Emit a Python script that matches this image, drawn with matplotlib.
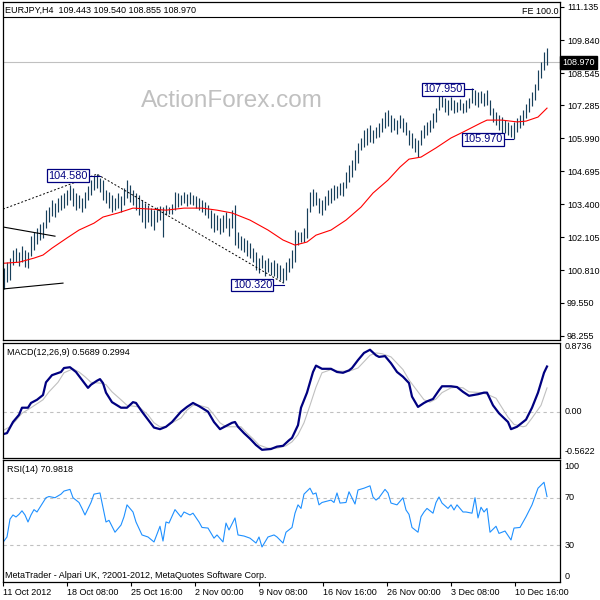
import matplotlib
matplotlib.use('Agg')
import matplotlib.pyplot as plt

plt.rcParams['font.family'] = ['Liberation Sans', 'DejaVu Sans']
plt.rcParams['font.size'] = 6.5

# EURJPY H4 bars (high / low), one entry per bar
highs = [100.90, 101.13, 101.29, 101.61, 101.68, 101.53, 101.76, 101.61, 101.53, 102.15,
         102.31, 102.47, 102.62, 102.70, 103.17, 103.29, 103.57, 103.45, 103.64, 103.76,
         103.84, 103.96, 104.15, 104.04, 103.84, 103.76, 103.64, 103.88, 104.12, 104.35,
         104.51, 104.58, 104.43, 104.35, 103.96, 103.88, 103.76, 103.64, 103.84, 103.72,
         104.04, 104.35, 104.15, 103.96, 103.84, 103.76, 103.57, 103.45, 103.37, 103.25,
         103.17, 103.29, 103.33, 103.29, 103.37, 103.29, 103.41, 103.88, 103.84, 103.76,
         103.88, 103.80, 103.88, 103.76, 103.72, 103.64, 103.57, 103.49, 103.37, 103.17,
         103.06, 102.98, 102.86, 102.98, 103.10, 102.86, 103.17, 103.37, 102.31, 102.15,
         102.08, 102.00, 101.88, 101.68, 101.53, 101.29, 101.41, 101.21, 101.29, 101.13,
         101.21, 101.09, 101.02, 100.90, 101.13, 101.29, 101.61, 102.39, 102.31, 102.31,
         102.47, 103.25, 103.88, 104.00, 103.88, 103.64, 103.57, 103.72, 103.96, 104.04,
         104.15, 104.12, 104.23, 104.27, 104.66, 104.94, 105.13, 105.53, 105.80, 106.00,
         106.31, 106.39, 106.51, 106.31, 106.43, 106.59, 106.78, 107.02, 107.10, 106.90,
         106.78, 106.70, 106.90, 106.78, 106.63, 106.31, 106.19, 106.00, 105.92, 106.31,
         106.51, 106.63, 106.70, 106.98, 107.17, 107.68, 107.76, 107.57, 107.49, 107.61,
         107.49, 107.41, 107.53, 107.37, 107.49, 107.57, 107.95, 107.88, 107.80, 107.84,
         107.76, 107.88, 107.49, 107.17, 107.02, 106.90, 106.82, 106.70, 106.63, 106.51,
         106.63, 106.78, 106.90, 107.10, 107.33, 107.57, 107.80, 108.12, 108.66, 108.98,
         109.37, 109.54]
lows = [100.07, 100.35, 100.43, 101.02, 101.13, 100.98, 101.13, 100.94, 100.90, 101.37,
        101.61, 101.84, 102.00, 102.08, 102.47, 102.70, 102.94, 102.90, 103.10, 103.17,
        103.25, 103.37, 103.57, 103.33, 103.17, 103.25, 103.10, 103.25, 103.57, 103.76,
        103.96, 104.04, 103.88, 103.57, 103.45, 103.25, 103.10, 103.17, 103.25, 103.10,
        103.37, 103.64, 103.49, 103.37, 103.17, 102.98, 102.70, 102.47, 102.70, 102.55,
        102.39, 102.70, 102.78, 102.11, 102.98, 103.02, 103.02, 103.17, 103.29, 103.37,
        103.45, 103.33, 103.41, 103.37, 103.25, 103.17, 103.10, 102.98, 102.86, 102.47,
        102.31, 102.39, 102.23, 102.31, 102.47, 102.15, 102.47, 101.80, 101.68, 101.61,
        101.53, 101.37, 101.29, 101.13, 100.82, 100.70, 100.90, 100.58, 100.74, 100.62,
        100.58, 100.51, 100.43, 100.32, 100.43, 100.74, 100.90, 101.13, 101.80, 101.92,
        101.92, 102.08, 103.10, 103.33, 103.37, 103.06, 102.98, 103.17, 103.37, 103.45,
        103.57, 103.64, 103.76, 103.72, 104.04, 104.27, 104.47, 104.74, 105.02, 105.53,
        105.65, 105.72, 105.84, 105.80, 106.00, 106.04, 106.23, 106.39, 106.47, 106.23,
        106.31, 106.15, 106.39, 106.23, 106.12, 105.72, 105.61, 105.45, 105.25, 105.72,
        106.00, 106.12, 106.23, 106.39, 106.63, 107.10, 107.21, 107.02, 106.90, 107.10,
        106.98, 107.02, 107.10, 106.98, 107.02, 107.17, 107.37, 107.29, 107.21, 107.37,
        107.25, 107.29, 106.90, 106.63, 106.51, 106.31, 106.12, 106.19, 106.12, 106.04,
        105.97, 106.23, 106.39, 106.51, 106.78, 107.02, 107.25, 107.49, 107.88, 108.35,
        108.66, 108.86]

last_ohlc = [109.443, 109.540, 108.855, 108.970]
fe_level = 110.74

# red moving average (bar index, price)
ma_idx = [0, 5, 10, 13, 16, 21, 25, 30, 33, 38, 43, 49, 54, 60, 66, 71, 76, 82, 88, 93,
          97, 101, 104, 109, 114, 119, 123, 128, 132, 135, 139, 144, 149, 153, 159, 161,
          166, 171, 174, 178, 181]
ma_val = [101.09, 101.13, 101.29, 101.41, 101.68, 102.08, 102.39, 102.66, 102.90, 103.06,
          103.25, 103.21, 103.17, 103.25, 103.25, 103.17, 103.06, 102.78, 102.39, 102.00,
          101.80, 101.92, 102.19, 102.39, 102.78, 103.29, 103.84, 104.35, 104.86, 105.17,
          105.25, 105.61, 106.00, 106.23, 106.59, 106.70, 106.70, 106.63, 106.66, 106.82,
          107.17]

# swing points: zigzag (dotted) and triangle (solid)
zigzag_idx = [-0.33, 31, 93]
zigzag_val = [103.21, 104.58, 100.32]
tri_up_idx = [-0.33, 17]
tri_up_val = [102.51, 102.15]
tri_lo_idx = [-0.33, 19.67]
tri_lo_val = [100.08, 100.31]

swing_vals = [104.580, 100.320, 107.950, 105.970]
swing_bar = [32, 93.3, 156.3, 169.7]
label_pos = [(21.3, 104.52), (82.8, 100.23), (146.2, 107.90), (159.7, 105.94)]
label_right = [28.7, 89.7, 153.0, 166.3]

# MACD(12,26,9)
macd_idx = [0, 1, 3, 5, 6, 8, 9, 11, 13, 14,
            16, 19, 20, 22, 24, 26, 28, 29, 31, 32,
            33, 34, 36, 39, 41, 43, 44, 46, 48, 50,
            52, 54, 56, 59, 61, 63, 65, 68, 70, 72,
            74, 76, 77, 78, 80, 82, 84, 86, 89, 91,
            93, 95, 96, 98, 99, 101, 103, 104, 106, 109,
            111, 113, 115, 116, 118, 120, 122, 124, 125, 127,
            129, 131, 133, 135, 136, 138, 140, 141, 143, 145,
            146, 149, 151, 153, 155, 158, 160, 161, 163, 165,
            168, 169, 171, 174, 176, 178, 180, 181]
macd_val = [-0.28, -0.27, -0.13, -0.04, 0.05, 0.05, 0.11, 0.15, 0.21, 0.37,
            0.46, 0.50, 0.55, 0.56, 0.50, 0.40, 0.30, 0.34, 0.39, 0.41,
            0.36, 0.24, 0.12, 0.05, 0.05, 0.12, 0.11, 0.00, -0.10, -0.20,
            -0.22, -0.19, -0.13, 0.00, 0.06, 0.11, 0.07, 0.00, -0.13, -0.22,
            -0.18, -0.14, -0.13, -0.19, -0.27, -0.34, -0.42, -0.48, -0.47, -0.44,
            -0.43, -0.36, -0.33, -0.17, 0.05, 0.24, 0.50, 0.58, 0.54, 0.54,
            0.50, 0.49, 0.52, 0.55, 0.65, 0.74, 0.78, 0.71, 0.69, 0.70,
            0.61, 0.50, 0.44, 0.36, 0.19, 0.06, 0.11, 0.13, 0.16, 0.27,
            0.32, 0.32, 0.31, 0.25, 0.20, 0.22, 0.24, 0.24, 0.08, -0.02,
            -0.13, -0.22, -0.19, -0.10, 0.05, 0.24, 0.49, 0.5689]
sig_idx = [0, 2, 4, 6, 9, 11, 13, 15, 18, 20,
           23, 25, 27, 29, 32, 34, 36, 39, 41, 43,
           45, 48, 50, 52, 54, 56, 59, 61, 63, 65,
           68, 70, 72, 74, 76, 79, 81, 83, 85, 88,
           91, 94, 96, 98, 100, 102, 104, 106, 109, 112,
           115, 118, 120, 122, 124, 126, 129, 131, 133, 135,
           138, 140, 142, 144, 146, 149, 151, 153, 155, 159,
           161, 164, 166, 168, 170, 173, 174, 176, 179, 181]
sig_val = [-0.23, -0.19, -0.11, -0.02, 0.05, 0.10, 0.15, 0.25, 0.37, 0.49,
           0.54, 0.50, 0.44, 0.37, 0.36, 0.34, 0.25, 0.15, 0.08, 0.07,
           0.06, -0.04, -0.14, -0.19, -0.19, -0.14, -0.08, 0.02, 0.08, 0.08,
           0.05, -0.04, -0.14, -0.19, -0.19, -0.19, -0.27, -0.34, -0.42, -0.46,
           -0.46, -0.43, -0.38, -0.29, -0.14, 0.08, 0.31, 0.49, 0.53, 0.51,
           0.51, 0.55, 0.63, 0.71, 0.74, 0.73, 0.69, 0.61, 0.53, 0.40,
           0.25, 0.15, 0.12, 0.16, 0.24, 0.30, 0.31, 0.30, 0.25, 0.24,
           0.22, 0.17, 0.05, -0.07, -0.16, -0.19, -0.18, -0.08, 0.08, 0.2994]
macd_marks = ['0.8736', '0.00', '-0.5622']

# RSI(14)
rsi_idx = [0, 1, 2, 3, 4, 5, 6, 7, 8, 9,
           10, 11, 12, 14, 15, 17, 19, 20, 22, 23,
           25, 26, 27, 29, 30, 32, 33, 34, 35, 37,
           39, 40, 41, 43, 44, 46, 48, 50, 51, 52,
           53, 54, 55, 57, 59, 60, 62, 63, 65, 66,
           68, 70, 71, 73, 74, 75, 77, 78, 80, 82,
           84, 85, 86, 88, 90, 91, 93, 94, 96, 97,
           98, 99, 100, 102, 103, 104, 105, 106, 109, 110,
           111, 112, 114, 115, 117, 118, 120, 122, 123, 124,
           125, 127, 128, 129, 131, 133, 134, 135, 136, 138,
           139, 140, 141, 143, 144, 145, 146, 148, 149, 150,
           151, 153, 154, 156, 157, 158, 159, 160, 161, 162,
           164, 165, 167, 169, 170, 172, 174, 176, 178, 180,
           181]
rsi_val = [33.6, 37, 52, 55.5, 53.8, 56, 59, 55.5, 49.6, 55.5,
           60, 58, 62, 70, 71, 70, 73, 75.6, 77, 70,
           66, 61, 55.5, 66, 73, 74, 62, 49.6, 51, 41,
           47, 54, 64, 58, 49.6, 38.7, 37, 32.8, 39.5, 46,
           33.6, 49.6, 48.7, 60, 53.8, 58, 55.5, 57, 49.6, 45,
           44.5, 36, 38.7, 32.8, 48.7, 42.9, 53, 38.7, 37.8, 36,
           31.9, 37, 28.6, 37, 38.7, 37, 31.9, 41, 45, 57,
           64, 61, 73, 78, 73, 74, 64, 66, 68, 66,
           74, 65.5, 66, 75, 64.7, 76.5, 78, 80, 70.6, 68,
           70, 77, 74, 65.5, 64, 70, 59.7, 56, 45, 41,
           54, 58, 61, 57, 66, 70.6, 65.5, 61, 64, 59.7,
           64, 58, 58, 57, 70, 53, 62, 58, 61, 41,
           46, 40, 42, 34.5, 44.5, 45, 54, 64, 78, 83,
           70.9818]
rsi_marks = [100, 70, 30, 0]

price_ticks = [111.135, 109.840, 108.545, 107.285, 105.990, 104.695,
               103.400, 102.105, 100.810, 99.550, 98.255]
tick_pos = [-0.33, 21, 42.33, 63.67, 85, 106.33, 127.67, 149, 170.33]
tick_labels = ['11 Oct 2012', '18 Oct 08:00', '25 Oct 16:00', '2 Nov 00:00',
               '9 Nov 08:00', '16 Nov 16:00', '26 Nov 00:00', '3 Dec 08:00',
               '10 Dec 16:00']

bar_color = '#173f5a'
navy = '#000080'


def P(x, y):
    # pixel position -> figure fraction
    return x / 600, 1 - y / 600


def panel(top, bottom):
    return [3 / 600, 1 - bottom / 600, 557 / 600, (bottom - top) / 600]


fig = plt.figure(figsize=(6, 6), dpi=100)
ax1 = fig.add_axes(panel(2, 340))
ax2 = fig.add_axes(panel(343, 457.5))
ax3 = fig.add_axes(panel(460, 582))

for ax in (ax1, ax2, ax3):
    ax.set_xlim(-0.33, 185.33)
    for s in ax.spines.values():
        s.set_linewidth(0.9)
        s.set_color('black')
    ax.tick_params(axis='x', bottom=False, labelbottom=False)
    ax.yaxis.tick_right()

# --- price panel ---
ax1.set_ylim(98.08, 111.33)
ax1.axhline(last_ohlc[3], color='#c0c0c0', lw=0.8)
ax1.axhline(fe_level, color='black', lw=0.8)
ax1.vlines(range(len(highs)), lows, highs, color=bar_color, lw=0.85)
ax1.plot(ma_idx, ma_val, color='red', lw=0.8)
ax1.plot(zigzag_idx, zigzag_val, color='black', lw=0.7, ls=(0, (2, 2)))
ax1.plot(tri_up_idx, tri_up_val, color='black', lw=0.8)
ax1.plot(tri_lo_idx, tri_lo_val, color='black', lw=0.8)

for v, bx, (lx, ly), rx in zip(swing_vals, swing_bar, label_pos, label_right):
    ax1.plot([rx, bx], [ly, ly], color=navy, lw=0.8)
    ax1.text(lx, ly, f'{v:.3f}', ha='center', va='center', color=navy, fontsize=7.8,
             bbox=dict(boxstyle='square,pad=0.12', fc='white', ec=navy, lw=0.9))

ax1.set_yticks(price_ticks)
ax1.set_yticklabels([f'{v:.3f}' for v in price_ticks])
ax1.tick_params(axis='y', length=3, width=0.8, pad=2, labelsize=6.5)
ax1.text(1.004, last_ohlc[3], f'{last_ohlc[3]:.3f}', transform=ax1.get_yaxis_transform(),
         ha='left', va='center', color='white', fontsize=6.5, zorder=5,
         bbox=dict(boxstyle='square,pad=0.2', fc='black', ec='black'))

fig.text(*P(5, 10.5), 'EURJPY,H4  ' + ' '.join(f'{v:.3f}' for v in last_ohlc),
         va='center', fontsize=6.5)
fig.text(*P(558, 11.5), 'FE 100.0', ha='right', va='center', fontsize=6.5)
fig.text(*P(232, 101), 'ActionForex.com', ha='center', va='center',
         fontsize=17.5, color='#c0c0c0')

# --- MACD panel ---
ax2.set_ylim(-0.577, 0.865)
ax2.set_yticks([])
ax2.axhline(0, color='#c0c0c0', lw=0.8, ls=(0, (3, 3)))
ax2.plot(sig_idx, sig_val, color='#c0c0c0', lw=0.8)
ax2.plot(macd_idx, macd_val, color=navy, lw=1.6)
yt = ax2.get_yaxis_transform()
for s, va in zip(macd_marks, ['top', 'center', 'bottom']):
    ax2.text(1.008, float(s), s, transform=yt, ha='left', va=va, fontsize=6.5,
             clip_on=False)
fig.text(*P(7, 352.5), 'MACD(12,26,9) %.4f %.4f' % (macd_val[-1], sig_val[-1]),
         va='center', fontsize=6.5)

# --- RSI panel ---
ax3.set_ylim(-0.84, 101.7)
ax3.set_yticks([])
ax3.axhline(70, color='#c0c0c0', lw=0.8, ls=(0, (3, 3)))
ax3.axhline(30, color='#c0c0c0', lw=0.8, ls=(0, (3, 3)))
ax3.plot(rsi_idx, rsi_val, color='#1e90ff', lw=0.8)
yt = ax3.get_yaxis_transform()
for v, va in zip(rsi_marks, ['top', 'center', 'center', 'bottom']):
    ax3.text(1.008, v, str(v), transform=yt, ha='left', va=va, fontsize=6.5,
             clip_on=False)
fig.text(*P(7, 469), 'RSI(14) %.4f' % rsi_val[-1], va='center', fontsize=6.5)
fig.text(*P(5, 575), 'MetaTrader - Alpari UK, ?2001-2012, MetaQuotes Software Corp.',
         va='center', fontsize=6.5)

ax3.set_xticks(tick_pos)
ax3.set_xticklabels(tick_labels, ha='left')
ax3.tick_params(axis='x', bottom=True, labelbottom=True, length=3, width=0.8,
                pad=1.5, labelsize=6.5)

fig.savefig('out.png', dpi=100, facecolor='white')
